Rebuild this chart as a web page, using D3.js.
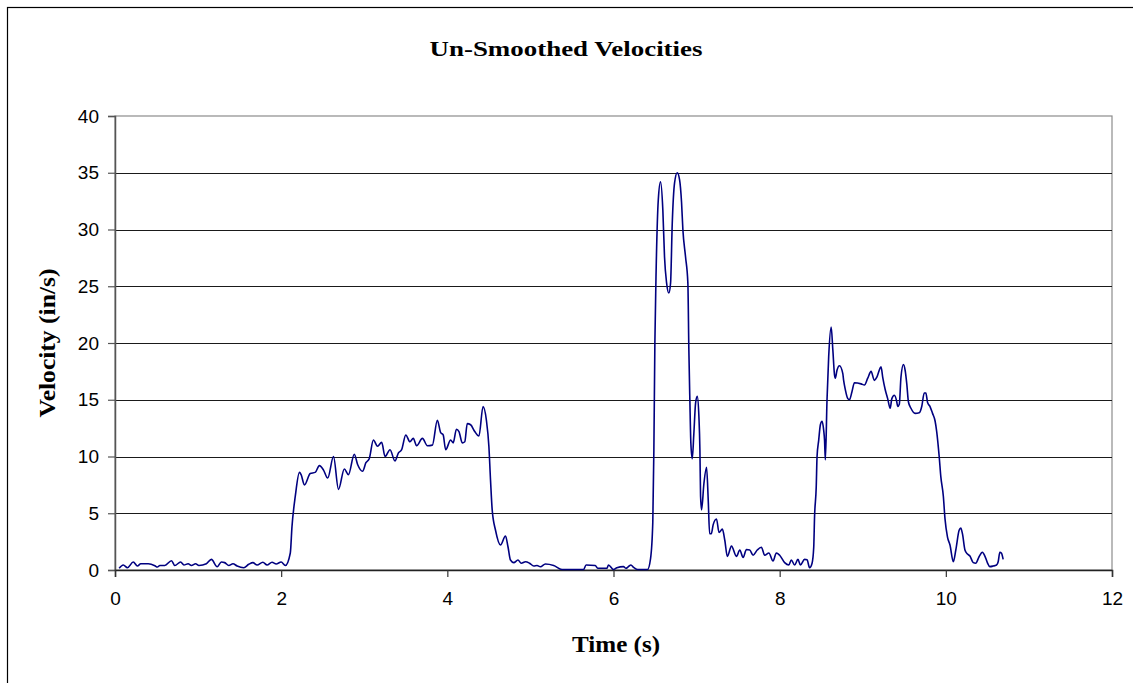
<!DOCTYPE html>
<html>
<head>
<meta charset="utf-8">
<script src="https://cdn.jsdelivr.net/npm/d3@7/dist/d3.min.js"></script>
<style>
  html, body { margin: 0; padding: 0; background: #fff; }
  svg { display: block; }
</style>
</head>
<body>
<svg id="chart" width="1133" height="683"></svg>
<script>
// Sample times (s)
const time = [
  0.05, 0.10, 0.15, 0.22, 0.27, 0.31, 0.40, 0.48, 0.51, 0.54, 0.60, 0.68, 0.72, 0.79, 0.83, 0.88,
  0.92, 0.97, 1.01, 1.10, 1.16, 1.23, 1.28, 1.32, 1.37, 1.42, 1.47, 1.55, 1.61, 1.66, 1.71, 1.78,
  1.83, 1.89, 1.94, 2.00, 2.05, 2.11, 2.13, 2.17, 2.22, 2.24, 2.28, 2.35, 2.41, 2.46, 2.51, 2.56,
  2.63, 2.69, 2.76, 2.81, 2.88, 2.92, 2.98, 3.02, 3.06, 3.11, 3.16, 3.21, 3.25, 3.31, 3.37, 3.41,
  3.45, 3.50, 3.55, 3.59, 3.63, 3.70, 3.76, 3.82, 3.88, 3.92, 3.95, 3.98, 4.04, 4.07, 4.11, 4.14,
  4.18, 4.21, 4.24, 4.28, 4.33, 4.38, 4.43, 4.47, 4.50, 4.52, 4.54, 4.58, 4.64, 4.70, 4.73, 4.76,
  4.80, 4.85, 4.89, 4.94, 4.99, 5.04, 5.08, 5.12, 5.18, 5.28, 5.38, 5.64, 5.67, 5.78, 5.81, 5.92,
  5.94, 6.00, 6.04, 6.12, 6.15, 6.18, 6.21, 6.24, 6.29, 6.41, 6.446, 6.473, 6.486, 6.498, 6.514, 6.539,
  6.566, 6.594, 6.614, 6.639, 6.666, 6.687, 6.707, 6.735, 6.767, 6.795, 6.819, 6.835, 6.867, 6.895, 6.907, 6.919,
  6.931, 6.948, 6.967, 6.988, 7.008, 7.028, 7.040, 7.048, 7.060, 7.088, 7.120, 7.140, 7.157, 7.177, 7.20, 7.24,
  7.27, 7.31, 7.34, 7.37, 7.42, 7.48, 7.52, 7.56, 7.60, 7.64, 7.68, 7.73, 7.78, 7.82, 7.87, 7.92,
  7.96, 8.00, 8.06, 8.11, 8.14, 8.18, 8.22, 8.25, 8.30, 8.33, 8.36, 8.39, 8.41, 8.42, 8.44, 8.45,
  8.47, 8.49, 8.51, 8.53, 8.54, 8.55, 8.57, 8.59, 8.62, 8.64, 8.66, 8.67, 8.69, 8.72, 8.76, 8.77,
  8.79, 8.82, 8.84, 8.87, 8.90, 8.98, 9.02, 9.06, 9.10, 9.14, 9.17, 9.22, 9.24, 9.27, 9.30, 9.33,
  9.35, 9.38, 9.41, 9.42, 9.44, 9.46, 9.49, 9.51, 9.53, 9.55, 9.58, 9.63, 9.68, 9.71, 9.74, 9.76,
  9.78, 9.81, 9.84, 9.87, 9.89, 9.92, 9.94, 9.97, 9.99, 10.02, 10.05, 10.09, 10.12, 10.16, 10.18, 10.20,
  10.23, 10.26, 10.29, 10.33, 10.36, 10.40, 10.44, 10.47, 10.50, 10.53, 10.57, 10.61, 10.63, 10.65, 10.67, 10.69
];

// Measured velocity (in/s) at each sample time
const velocity = [
  0.15, 0.44, 0.20, 0.70, 0.35, 0.55, 0.55, 0.38, 0.26, 0.40, 0.40, 0.82, 0.40, 0.70, 0.44, 0.55,
  0.40, 0.55, 0.40, 0.55, 0.94, 0.29, 0.70, 0.65, 0.40, 0.55, 0.35, 0.20, 0.50, 0.65, 0.44, 0.68,
  0.44, 0.68, 0.53, 0.70, 0.40, 1.50, 3.80, 6.50, 8.60, 8.40, 7.50, 8.50, 8.60, 9.20, 8.80, 8.10,
  10.0, 7.10, 8.90, 8.40, 10.2, 9.30, 8.70, 9.45, 9.80, 11.45, 10.9, 11.25, 10.0, 10.6, 9.60, 10.3,
  10.6, 11.9, 11.3, 11.6, 10.95, 11.6, 10.95, 11.0, 13.2, 12.1, 11.9, 10.6, 11.45, 11.2, 12.4, 12.2,
  11.2, 11.3, 12.9, 12.8, 12.2, 11.8, 14.4, 13.2, 10.9, 7.90, 5.30, 3.50, 2.20, 3.00, 2.05, 0.88,
  0.65, 0.88, 0.60, 0.73, 0.60, 0.35, 0.40, 0.29, 0.53, 0.40, 0.05, 0.05, 0.44, 0.40, 0.15, 0.15,
  0.44, 0.05, 0.20, 0.30, 0.15, 0.30, 0.44, 0.24, 0.05, 0.05, 1.00, 4.20, 10.6, 20.0, 26.7, 32.6,
  34.2, 31.7, 27.6, 25.3, 24.4, 25.3, 30.5, 34.1, 35.0, 34.4, 32.4, 30.0, 27.6, 25.3, 19.4, 15.0,
  11.2, 9.80, 12.0, 14.7, 15.3, 13.5, 10.6, 6.50, 5.30, 7.60, 9.05, 6.20, 3.20, 3.20, 4.00, 4.50,
  3.30, 3.60, 2.60, 1.20, 2.10, 1.20, 1.76, 1.10, 1.80, 1.76, 1.30, 1.76, 2.00, 1.30, 1.50, 0.80,
  1.50, 1.30, 0.65, 0.44, 0.88, 0.44, 0.94, 0.44, 0.94, 0.90, 0.20, 0.60, 2.00, 4.70, 7.30, 10.0,
  11.45, 12.8, 13.1, 12.3, 11.45, 9.70, 15.0, 18.8, 21.4, 19.4, 17.2, 16.9, 17.6, 18.0, 17.3, 16.7,
  15.9, 15.1, 15.0, 15.7, 16.5, 16.4, 16.3, 16.9, 17.5, 16.7, 17.0, 17.9, 17.0, 15.9, 15.1, 14.25,
  15.1, 15.4, 14.8, 14.4, 14.6, 17.0, 18.1, 17.6, 16.4, 14.8, 14.25, 13.8, 13.85, 14.4, 15.6, 15.6,
  14.75, 14.4, 13.8, 13.15, 12.2, 10.0, 8.20, 6.50, 4.50, 2.90, 2.20, 0.73, 1.76, 3.50, 3.70, 3.20,
  1.76, 1.40, 1.23, 0.65, 0.60, 1.17, 1.56, 1.23, 0.65, 0.30, 0.35, 0.44, 0.73, 1.56, 1.47, 0.94
];

// Axis ticks
const xTicks = [0, 2, 4, 6, 8, 10, 12];
const yTicks = [0, 5, 10, 15, 20, 25, 30, 35, 40];

const chartTitle = "Un-Smoothed Velocities";
const xTitle = "Time (s)";
const yTitle = "Velocity (in/s)";

const points = time.map((t, i) => ({ t, v: velocity[i] }));

const svg = d3.select("#chart");
const plot = { left: 115, right: 1112, top: 116, bottom: 570 };

const x = d3.scaleLinear().domain([0, 12]).range([plot.left, plot.right]);
const y = d3.scaleLinear().domain([0, 40]).range([plot.bottom, plot.top]);

// Outer chart frame
svg.append("rect")
  .attr("x", 7.5).attr("y", 7.5)
  .attr("width", 1140).attr("height", 700)
  .attr("fill", "#fff").attr("stroke", "#000").attr("stroke-width", 1.2);

// Plot area frame
svg.append("rect")
  .attr("x", plot.left).attr("y", plot.top)
  .attr("width", plot.right - plot.left).attr("height", plot.bottom - plot.top)
  .attr("fill", "#fff").attr("stroke", "#8c8c8c").attr("stroke-width", 1.2);

// Horizontal gridlines
svg.append("g")
  .selectAll("line")
  .data(yTicks.filter(d => d > 0 && d < 40))
  .join("line")
  .attr("x1", plot.left).attr("x2", plot.right)
  .attr("y1", d => Math.round(y(d)) + 0.5).attr("y2", d => Math.round(y(d)) + 0.5)
  .attr("stroke", "#1a1a1a").attr("stroke-width", 1);

// Y axis
const yAxis = svg.append("g")
  .attr("transform", `translate(${plot.left},0)`)
  .call(d3.axisLeft(y).tickValues(yTicks).tickSize(7).tickPadding(9).tickFormat(d3.format("d")));
yAxis.select(".domain").attr("stroke", "#555").attr("stroke-width", 1.5);
yAxis.selectAll(".tick line").attr("stroke", "#555").attr("stroke-width", 1.2);
yAxis.selectAll("text")
  .attr("font-family", "Liberation Sans, Arial, sans-serif")
  .attr("font-size", 19).attr("fill", "#000");

// X axis
const xAxis = svg.append("g")
  .attr("transform", `translate(0,${plot.bottom})`)
  .call(d3.axisBottom(x).tickValues(xTicks).tickSize(7).tickPadding(15).tickFormat(d3.format("d")));
xAxis.select(".domain").attr("stroke", "#222").attr("stroke-width", 1.5);
xAxis.selectAll(".tick line").attr("stroke", "#333").attr("stroke-width", 1.2);
xAxis.selectAll("text")
  .attr("font-family", "Liberation Sans, Arial, sans-serif")
  .attr("font-size", 19).attr("fill", "#000");

// Velocity trace
const line = d3.line()
  .x(d => x(d.t))
  .y(d => y(d.v))
  .curve(d3.curveMonotoneX);

svg.append("path")
  .datum(points)
  .attr("d", line)
  .attr("fill", "none")
  .attr("stroke", "#000080")
  .attr("stroke-width", 1.6)
  .attr("stroke-linejoin", "round");

// Titles
svg.append("text")
  .attr("x", 566).attr("y", 56)
  .attr("text-anchor", "middle")
  .attr("font-family", "Liberation Serif, Times New Roman, serif")
  .attr("font-weight", "bold").attr("font-size", 22)
  .attr("textLength", 273).attr("lengthAdjust", "spacingAndGlyphs")
  .text(chartTitle);

svg.append("text")
  .attr("x", 616).attr("y", 652)
  .attr("text-anchor", "middle")
  .attr("font-family", "Liberation Serif, Times New Roman, serif")
  .attr("font-weight", "bold").attr("font-size", 23)
  .attr("textLength", 88).attr("lengthAdjust", "spacingAndGlyphs")
  .text(xTitle);

svg.append("text")
  .attr("transform", `translate(55,${(plot.top + plot.bottom) / 2}) rotate(-90)`)
  .attr("text-anchor", "middle")
  .attr("font-family", "Liberation Serif, Times New Roman, serif")
  .attr("font-weight", "bold").attr("font-size", 23)
  .attr("textLength", 149).attr("lengthAdjust", "spacingAndGlyphs")
  .text(yTitle);
</script>
</body>
</html>
